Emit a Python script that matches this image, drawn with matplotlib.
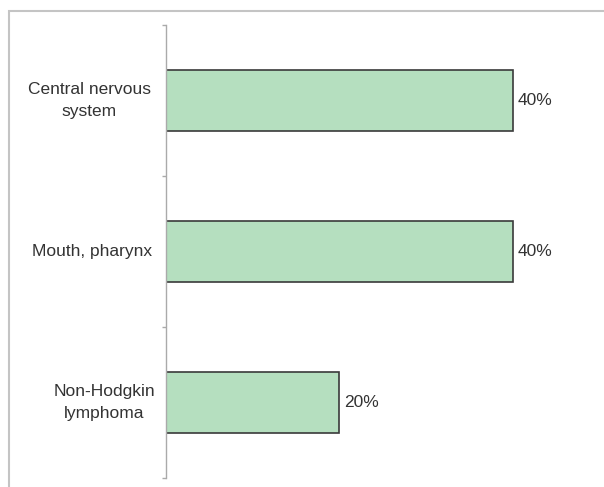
import matplotlib.pyplot as plt
from matplotlib.patches import Rectangle
from matplotlib.transforms import blended_transform_factory

categories = ["Central nervous\nsystem", "Mouth, pharynx", "Non-Hodgkin\nlymphoma"]
values = [40, 40, 20]
labels = ["40%", "40%", "20%"]

plt.rcParams['font.family'] = ['Liberation Sans', 'DejaVu Sans']

fig = plt.figure(figsize=(6.04, 4.87), dpi=100)
# light gray outer frame
fig.patches.append(Rectangle((9 / 604, -0.01), 1.0, 1 - 11 / 487 + 0.01, transform=fig.transFigure,
                             fill=False, edgecolor='#c4c4c4', linewidth=1.5))
ax = fig.add_axes([166 / 604, 9 / 487, 424 / 604, 453 / 487])

ypos = [2, 1, 0]
ax.barh(ypos, values, height=0.4, color='#b5dfbf', edgecolor='#3a3a3a', linewidth=1.2)
for y, v, t in zip(ypos, values, labels):
    ax.text(v + 0.55, y, t, va='center', ha='left', fontsize=12.5, color='#333333')

# category labels (wrapped, centered like the original)
label_x = [89 / 604, 92 / 604, 104 / 604]
trans = blended_transform_factory(fig.transFigure, ax.transData)
for y, c, lx in zip(ypos, categories, label_x):
    ax.text(lx, y, c, transform=trans, ha='center', va='center', multialignment='center',
            fontsize=12.5, color='#333333', linespacing=1.55)

ax.set_xlim(0, 48.9)
ax.set_ylim(-0.5, 2.5)
ax.set_yticks([-0.5, 0.5, 1.5, 2.5])
ax.set_yticklabels([])
ax.tick_params(axis='y', length=3, color='#aaaaaa', width=1)
ax.set_xticks([])
for s in ['top', 'right', 'bottom']:
    ax.spines[s].set_visible(False)
ax.spines['left'].set_color('#aaaaaa')
ax.spines['left'].set_linewidth(1)

fig.savefig('out.png', dpi=100)
